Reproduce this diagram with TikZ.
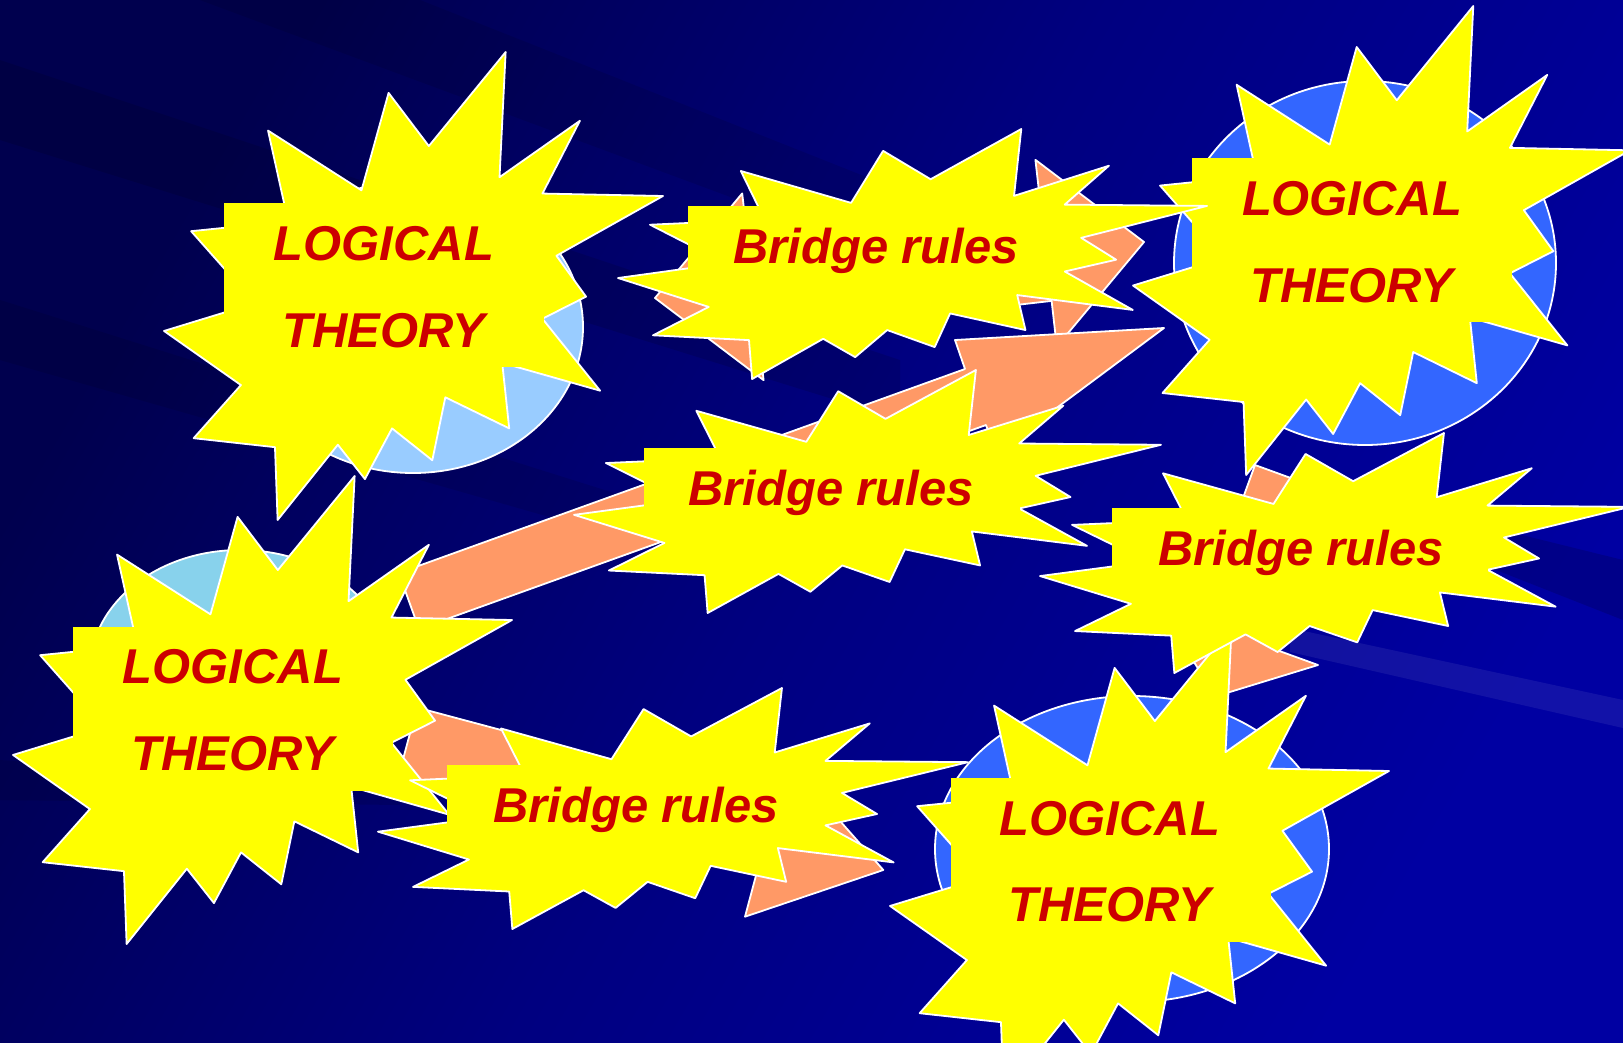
\documentclass[tikz,border=0pt]{standalone}
\usepackage{fontspec}
\setmainfont{Liberation Sans}
\definecolor{bgTL}{HTML}{00004E}
\definecolor{bgMid}{HTML}{000080}
\definecolor{bgBR}{HTML}{0000A2}
\definecolor{yel}{RGB}{255,255,0}
\definecolor{txtred}{HTML}{CC0000}
\definecolor{salmon}{HTML}{FF9966}
\definecolor{ellLight}{HTML}{99CCFF}
\definecolor{ellCyan}{HTML}{88D2EC}
\definecolor{ellBlue}{HTML}{3366FF}
\tikzset{
  expl/.style={fill=yel, draw=white, line width=1.8pt, line join=round},
  tbox/.style={fill=yel, draw=none},
  arr/.style={fill=salmon, draw=white, line width=1.8pt, line join=round},
  ell/.style={draw=white, line width=1.8pt},
  lbl/.style={text=txtred, font=\fontsize{48.9}{50}\selectfont\bfseries\itshape, inner sep=0pt, anchor=base},
}
\newcommand\explo[4]{%
\begin{scope}[shift={(#1,#2)},xscale=#3,yscale=#4]
\path[expl] (0.53074,0.20093) -- (0.45009,0.08736) -- (0.39574,0.29551) -- (0.20847,0.16787) -- (0.24875,0.36185) -- (0.05435,0.38287) -- (0.18213,0.53667) -- (0,0.59606) -- (0.15412,0.71167) -- (0.05940,0.82519) -- (0.22241,0.84440) -- (0.22769,1) -- (0.34838,0.83912) -- (0.40269,0.91259) -- (0.45699,0.80421) -- (0.53769,0.87241) -- (0.56380,0.73782) -- (0.69181,0.80421) -- (0.67778,0.66426) -- (0.87398,0.72370) -- (0.75843,0.56995) -- (0.84583,0.52278) -- (0.78639,0.43537) -- (1,0.30769) -- (0.75843,0.30245) -- (0.83356,0.14685) -- (0.67241,0.26750) -- (0.68468,0) -- cycle;
\end{scope}}
\begin{document}
\begin{tikzpicture}[x=1pt,y=-1pt]
\useasboundingbox (0,0) rectangle (1623,1042);
% background
\shade[top color=bgTL, bottom color=bgBR, middle color=bgMid, shading angle=60] (0,0) rectangle (1623,1042);
\fill[black,opacity=0.12] (0,60) -- (0,140) -- (900,420) -- (900,360) -- cycle;
\fill[black,opacity=0.10] (200,0) -- (420,0) -- (1000,230) -- (900,260) -- cycle;
\fill[black,opacity=0.10] (0,300) -- (0,360) -- (700,560) -- (700,520) -- cycle;
\fill[black,opacity=0.10] (0,760) -- (0,800) -- (400,805) -- (400,790) -- cycle;
\fill[white,opacity=0.07] (1290,628) -- (1623,700) -- (1623,728) -- (1290,652) -- cycle;
\fill[black,opacity=0.15] (1380,500) -- (1623,560) -- (1623,620) -- (1420,540) -- cycle;
% ellipses
\path[ell, fill=ellLight] (413,327) ellipse [x radius=170pt, y radius=146pt];
\path[ell, fill=ellBlue] (1365,263) ellipse [x radius=191pt, y radius=182pt];
\path[ell, fill=ellCyan] (240,670) ellipse [x radius=150pt, y radius=120pt];
\path[ell, fill=ellBlue] (1132,849) ellipse [x radius=197pt, y radius=153pt];
% arrows
\path[arr] (655,298) -- (742.2,193.4) -- (747.4,239.1) -- (1040.6,205.5) -- (1035.4,159.8) -- (1144,242) -- (1056.8,346.6) -- (1051.6,300.9) -- (758.4,334.5) -- (763.6,380.2) -- cycle;
\path[arr] (398.8,573) -- (965,369) -- (955,340) -- (1164,328) -- (996,453) -- (986,425) -- (419,629) -- cycle;
\path[arr] (1255,465) -- (1334.9,494.1) -- (1278,650.5) -- (1318,665) -- (1216.1,696.2) -- (1158.1,606.9) -- (1198.1,621.4) -- cycle;
\path[arr] (416.9,707.5) -- (775.2,803.2) -- (786.6,760.5) -- (883.3,870) -- (745,916.7) -- (756.4,874) -- (398,778.2) -- cycle;
% logical theories
\explo{164}{52}{499}{468}
\fill[tbox] (224,203) rectangle (544,367);
\node[lbl] (tlA) at (384,260) {LOGICAL};
\node[lbl] (tlB) at (384,347) {THEORY};
\explo{1133}{6}{497}{469}
\fill[tbox] (1192,158) rectangle (1512,322);
\node[lbl] (trA) at (1352,215) {LOGICAL};
\node[lbl] (trB) at (1352,302) {THEORY};
\explo{13}{476}{499}{468}
\fill[tbox] (73,627) rectangle (393,791);
\node[lbl] (blA) at (233,683) {LOGICAL};
\node[lbl] (blB) at (233,770) {THEORY};
\explo{890}{627}{499}{468}
\fill[tbox] (951,778) rectangle (1271,942);
\node[lbl] (brA) at (1110,835) {LOGICAL};
\node[lbl] (brB) at (1110,921) {THEORY};
% bridge rules
\explo{618}{129}{589}{250}
\fill[tbox] (688,206) rectangle (1064,283);
\node[lbl] (brT) at (876,263) {Bridge rules};
\explo{574}{370}{587}{243}
\fill[tbox] (644,448) rectangle (1020,525);
\node[lbl] (brM) at (831,505) {Bridge rules};
\explo{1040}{433}{590}{240}
\fill[tbox] (1112,508) rectangle (1488,585);
\node[lbl] (brR) at (1301,565) {Bridge rules};
\explo{378}{688}{590}{241}
\fill[tbox] (447,765) rectangle (823,842);
\node[lbl] (brL) at (636,822) {Bridge rules};
\end{tikzpicture}
\end{document}
